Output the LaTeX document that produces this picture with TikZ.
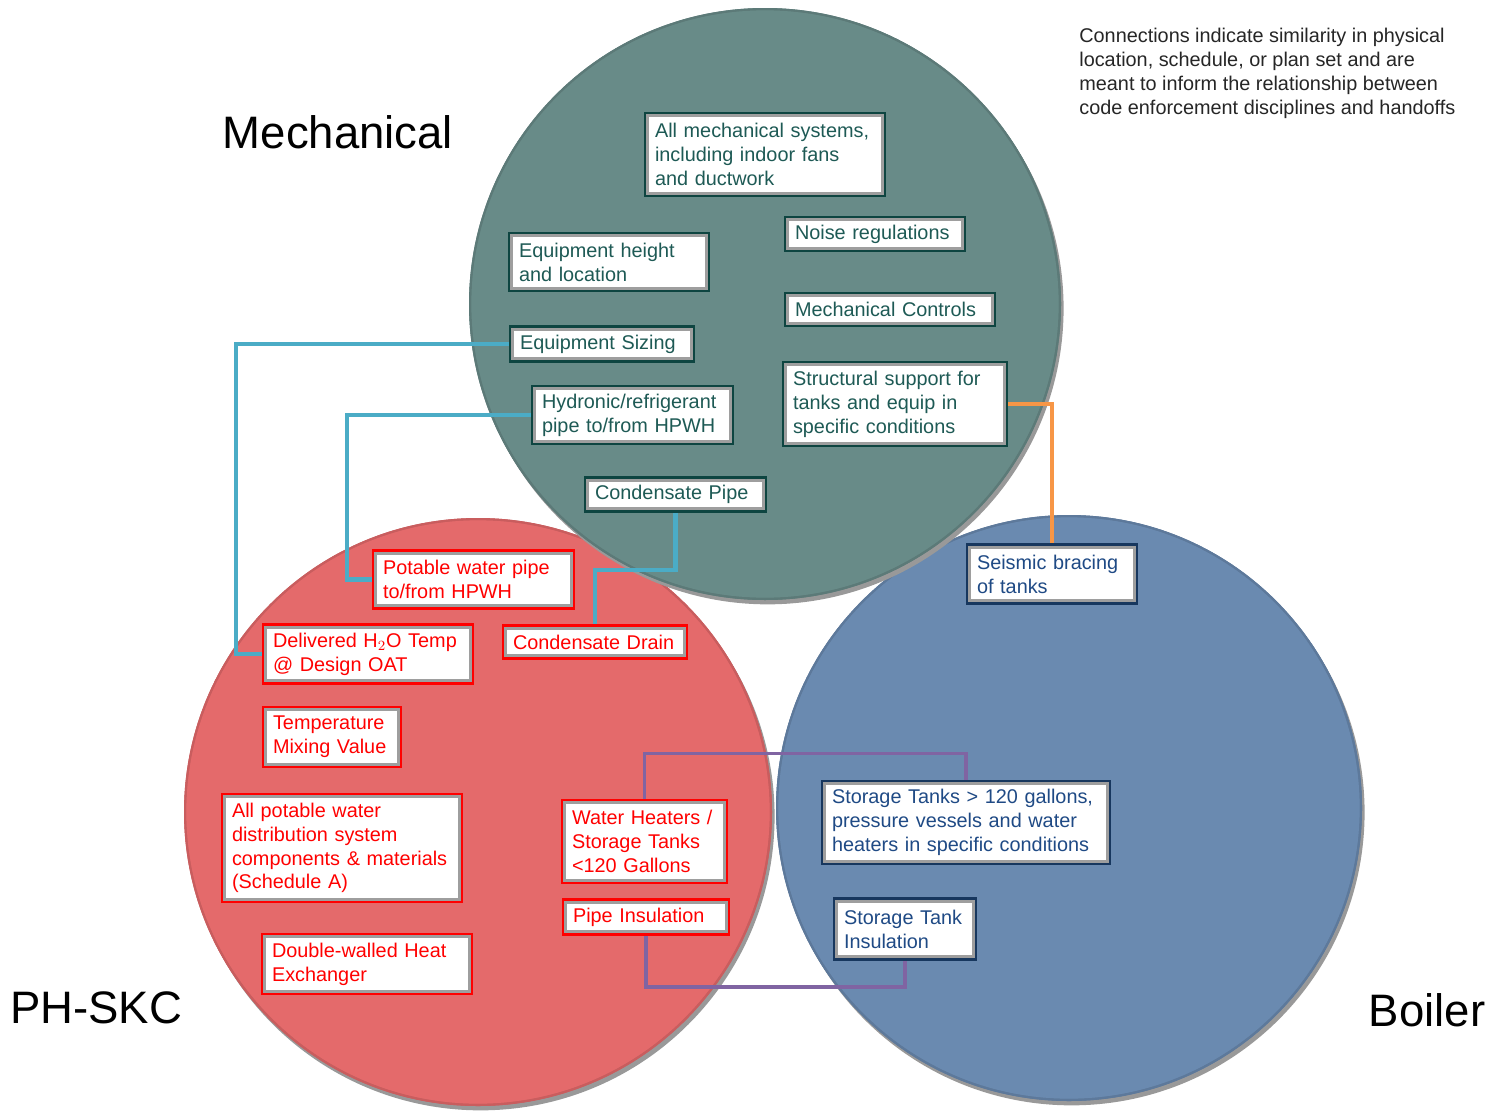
\documentclass[tikz,border=0pt]{standalone}
\usepackage{fontspec}
\setmainfont{Liberation Sans}
\usepackage{tikz}
\usetikzlibrary{calc,positioning}
\definecolor{mechfill}{HTML}{688B88}
\definecolor{mechline}{HTML}{0E4541}
\definecolor{mechtext}{HTML}{1E5A55}
\definecolor{phfill}{HTML}{E46A6B}
\definecolor{phline}{HTML}{FF0000}
\definecolor{boilfill}{HTML}{6A8AB0}
\definecolor{boilline}{HTML}{17375E}
\definecolor{boiltext}{HTML}{1F4A85}
\definecolor{cyanlink}{HTML}{4BACC6}
\definecolor{orangelink}{HTML}{F79646}
\definecolor{purplelink}{HTML}{8064A2}
\newcommand{\boxfont}{\fontsize{11.3}{13.6}\selectfont}
\newcommand{\bigfont}{\fontsize{25.9}{31}\selectfont}
\tikzset{
  item/.style={draw=#1, fill=white, line width=1.6pt, align=left, inner xsep=0.2cm, inner ysep=2pt, font=\boxfont,
    path picture={\draw[black!38, line width=5pt] (path picture bounding box.south west) rectangle (path picture bounding box.north east);}},
  mbox/.style={item=mechline, text=mechtext},
  pbox/.style={item=phline, text=phline},
  bbox/.style={item=boilline, text=boiltext},
  link/.style={line width=2.3pt},
  zone/.style={draw=#1!88!black, line width=1.2pt}
}
\begin{document}
\begin{tikzpicture}[x=0.02cm, y=-0.02cm]
\useasboundingbox (0,0) rectangle (1493,1112);
\fill[white] (0,0) rectangle (1493,1112);
\coordinate (mech) at (765,304);
\coordinate (ph) at (478,812);
\coordinate (boil) at (1069,808);
% circles
\fill[black!40] ([shift={(1.5pt,-2.5pt)}]ph) circle (5.88cm);
\fill[white] ([shift={(-0.8pt,0.8pt)}]ph) circle (5.86cm);
\fill[zone=phfill, fill=phfill] (ph) circle (5.86cm);
\fill[black!40] ([shift={(1.5pt,-2.5pt)}]boil) circle (5.86cm);
\fill[white] ([shift={(-0.8pt,0.8pt)}]boil) circle (5.84cm);
\fill[zone=boilfill, fill=boilfill] (boil) circle (5.84cm);
\draw[zone=phfill] (ph) circle (5.86cm);
\draw[zone=boilfill] (boil) circle (5.84cm);
\fill[black!40] ([shift={(1.5pt,-2.5pt)}]mech) circle (5.92cm);
\fill[white] ([shift={(-0.8pt,0.8pt)}]mech) circle (5.9cm);
\fill[zone=mechfill, fill=mechfill] (mech) circle (5.9cm);
\draw[zone=mechfill] (mech) circle (5.9cm);
% titles
\node[font=\bigfont] (mechtitle) at (338,132) {Mechanical};
\node[font=\bigfont] (phtitle) at (96,1008) {PH-SKC};
\node[font=\bigfont] (boiltitle) at (1427,1010) {Boiler};
\node[anchor=north west, align=left, font=\boxfont, text=black!85, inner sep=0pt] (note) at (1079,28)
  {Connections indicate similarity in physical\\location, schedule, or plan set and are\\meant to inform the relationship between\\code enforcement disciplines and handoffs};
% mechanical
\node[mbox, text width=4.4cm, minimum height=1.66cm] (mechsys) at (765,154.5) {All mechanical systems,\\including indoor fans\\and ductwork};
\node[mbox, text width=3.2cm, minimum height=0.68cm] (noise) at (875,234) {Noise regulations};
\node[mbox, text width=3.6cm, minimum height=1.16cm] (equipht) at (609,262) {Equipment height\\and location};
\node[mbox, text width=3.8cm, minimum height=0.66cm] (mechctrl) at (890,309.5) {Mechanical Controls};
\node[mbox, text width=3.28cm, minimum height=0.7cm] (eqsizing) at (602,344) {Equipment Sizing};
\node[mbox, text width=3.62cm, minimum height=1.16cm] (hydronic) at (632.5,415) {Hydronic/refrigerant\\pipe to/from HPWH};
\node[mbox, text width=4.08cm, minimum height=1.68cm] (structsup) at (895,404) {Structural support for\\tanks and equip in\\specific conditions};
\node[mbox, text width=3.22cm, minimum height=0.68cm] (condpipe) at (675.5,494.5) {Condensate Pipe};
% ph-skc
\node[pbox, text width=3.62cm, minimum height=1.16cm] (potpipe) at (473.5,579.5) {Potable water pipe\\to/from HPWH};
\node[pbox, text width=3.8cm, minimum height=1.18cm] (deltemp) at (368,654) {Delivered H$_2$O Temp\\@ Design OAT};
\node[pbox, text width=3.28cm, minimum height=0.66cm] (conddrain) at (595,642) {Condensate Drain};
\node[pbox, text width=2.36cm, minimum height=1.2cm] (tempmix) at (332,737) {Temperature\\Mixing Value};
\node[pbox, text width=4.4cm, minimum height=2.16cm] (potdist) at (342,848) {All potable water\\distribution system\\components \& materials\\(Schedule A)};
\node[pbox, text width=2.9cm, minimum height=1.66cm] (wheaters) at (644.5,841.5) {Water Heaters /\\Storage Tanks\\<120 Gallons};
\node[pbox, text width=2.92cm, minimum height=0.7cm] (pipeins) at (646,917) {Pipe Insulation};
\node[pbox, text width=3.8cm, minimum height=1.2cm] (dblwall) at (367,964) {Double-walled Heat\\Exchanger};
% boiler
\node[bbox, text width=3.0cm, minimum height=1.18cm] (seismic) at (1052,574) {Seismic bracing\\of tanks};
\node[bbox, text width=5.36cm, minimum height=1.66cm] (tanksbig) at (966,822.5) {Storage Tanks > 120 gallons,\\pressure vessels and water\\heaters in specific conditions};
\node[bbox, text width=2.44cm, minimum height=1.22cm] (tankins) at (905,929) {Storage Tank\\Insulation};
% connections
\draw[link, cyanlink] (eqsizing.west) -- ++(-273,0) |- (deltemp.west);
\draw[link, cyanlink] (hydronic.west) -- ++(-184,0) |- (potpipe.west);
\draw[link, cyanlink] (condpipe.south) -- ++(0,57) -| (conddrain.north);
\draw[link, orangelink] (structsup.east) -| (seismic.north);
\draw[link, purplelink, line width=1.9pt] (wheaters.north) -- ++(0,-45) -| (tanksbig.north);
\draw[link, purplelink, line width=1.9pt] (pipeins.south) -- ++(0,51) -| (tankins.south);
\end{tikzpicture}
\end{document}
